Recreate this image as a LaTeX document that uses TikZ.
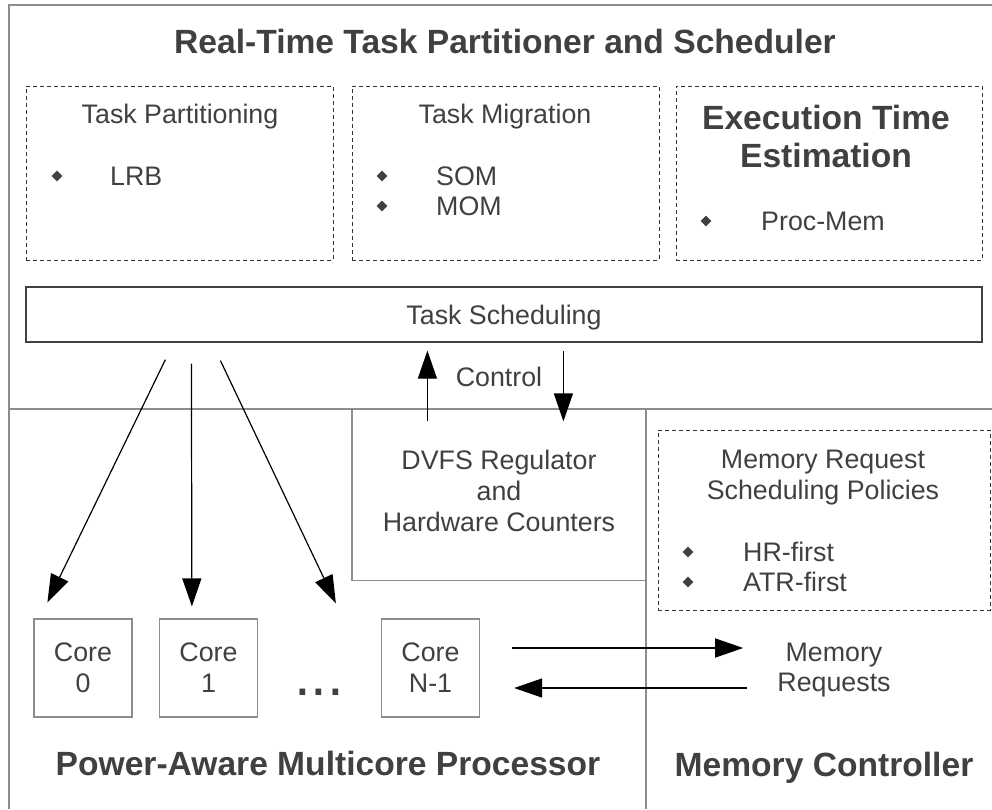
\documentclass[tikz,border=0pt]{standalone}
\usepackage{fontspec}
\setmainfont{Liberation Sans}
\usetikzlibrary{arrows.meta,shapes.geometric}

\definecolor{ink}{HTML}{404040}
\definecolor{rule}{HTML}{8C8C8C}

\tikzset{
  every node/.style={text=ink, inner sep=0pt},
  plain/.style={font=\fontsize{26.8}{30.8}\selectfont},
  heading/.style={font=\fontsize{33.6}{38}\selectfont\bfseries},
  region/.style={draw=rule, line width=1.2pt},
  group/.style={draw=black!80, dash pattern=on 4pt off 3pt, line width=1pt},
  corebox/.style={region, minimum size=98pt, plain, align=center},
  bullet/.style={diamond, fill=ink, minimum size=11pt},
  bigarrow/.style={-{Triangle[length=28pt,width=19pt]}, line width=1.2pt},
}

\begin{document}
\begin{tikzpicture}[x=1pt, y=-1pt]
\useasboundingbox (0,0) rectangle (992,809);
% frame of the three parts
\draw[region] (992,5) -- (9,5) -- (9,809);
\draw[region] (9,409) -- (992,409);
\draw[region] (646,409) -- (646,809);
\node[heading, anchor=base] (title) at (505,53) {Real-Time Task Partitioner and Scheduler};

% partitioner groups
\node[group, minimum width=307pt, minimum height=174pt] (part) at (179.5,173) {};
\node[plain, anchor=base] (parthead) at (180,123) {Task Partitioning};
\node[bullet] (partb1) at (57,176) {};
\node[plain, anchor=base west] (parti1) at (110,185) {LRB};

\node[group, minimum width=307pt, minimum height=174pt] (migr) at (505.5,173) {};
\node[plain, anchor=base] (migrhead) at (505,123) {Task Migration};
\foreach \t [count=\i] in {SOM,MOM} {
  \node[bullet] (migrb\i) at (382,146+30*\i) {};
  \node[plain, anchor=base west] (migri\i) at (436,155+30*\i) {\t};
}

\node[group, minimum width=306pt, minimum height=174pt] (exec) at (829,173) {};
\node[heading, anchor=base, align=center] (exechead) at (826,167) {Execution Time\\Estimation};
\node[bullet] (execb1) at (706,221) {};
\node[plain, anchor=base west] (execi1) at (761,230) {Proc-Mem};

\node[draw=black!75, line width=1.2pt, minimum width=956pt, minimum height=55pt, plain, text depth=0pt] (sched) at (504,314.5) {Task Scheduling};

% control loop
\node[region, minimum width=294pt, minimum height=171pt] (dvfs) at (499,495) {};
\node[plain, anchor=base, align=center] (dvfstext) at (499,531) {DVFS Regulator\\and\\Hardware Counters};
\node[plain, anchor=base] (ctrl) at (499,386) {Control};
\draw[bigarrow] ([shift={(76,12.5)}]dvfs.north west) -- ([shift={(402,8)}]sched.south west);
\draw[bigarrow] ([shift={(538,8)}]sched.south west) -- ([shift={(212,12.5)}]dvfs.north west);

% cores
\foreach \name/\x/\lab in {core0/83/0, core1/208.5/1, coren/430.5/N-1}
  \node[corebox] (\name) at (\x,668) {Core\\\lab};
\node[font=\fontsize{60}{60}\selectfont, anchor=base] (dots) at (319,695) {...};
\draw[bigarrow] ([shift={(140,17)}]sched.south west) -- ([shift={(14,-16)}]core0.north west);
\draw[bigarrow] ([shift={(166,21)}]sched.south west) -- ([shift={(33,-12)}]core1.north west);
\draw[bigarrow] ([shift={(195,18)}]sched.south west) -- ([shift={(-45,-15)}]coren.north west);
\node[heading, anchor=base] (prochead) at (328,775) {Power-Aware Multicore Processor};

% memory controller
\node[group, minimum width=332pt, minimum height=180pt] (policy) at (824,520) {};
\node[plain, anchor=base, align=center] (policyhead) at (823,499) {Memory Request\\Scheduling Policies};
\foreach \t [count=\i] in {HR-first,ATR-first} {
  \node[bullet] (polb\i) at (688,522+30*\i) {};
  \node[plain, anchor=base west] (poli\i) at (743,531+30*\i) {\t};
}
\node[plain, align=center] (memreq) at (834,670) {Memory\\Requests};
\draw[bigarrow] ([shift={(32,-20)}]coren.east) -- ([shift={(-34,-22)}]memreq.west);
\draw[bigarrow] ([shift={(-30,18)}]memreq.west) -- ([shift={(34,20)}]coren.east);
\node[heading, anchor=base] (memhead) at (824,776) {Memory Controller};
\end{tikzpicture}
\end{document}
